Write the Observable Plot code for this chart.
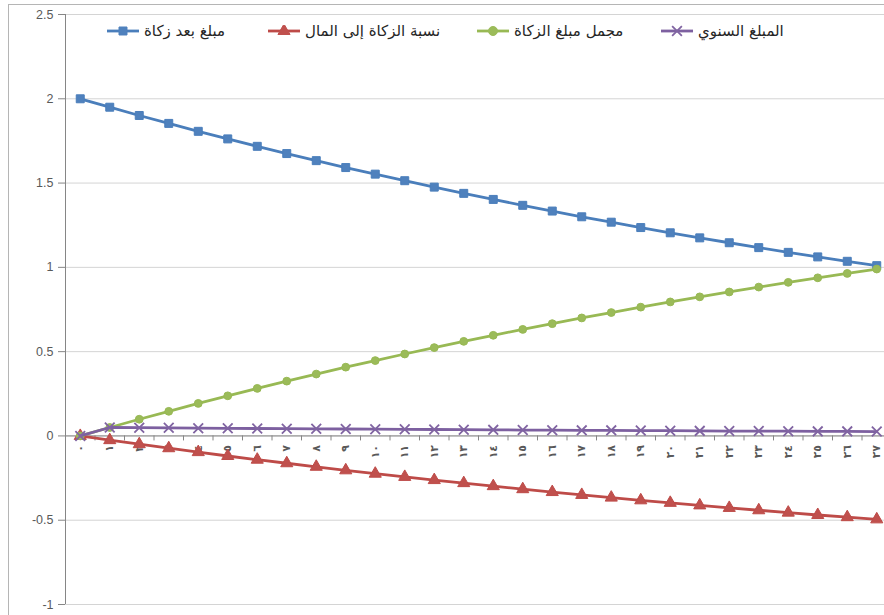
<!DOCTYPE html>
<html><head><meta charset="utf-8">
<script src="https://cdn.jsdelivr.net/npm/d3@7"></script>
<script src="https://cdn.jsdelivr.net/npm/@observablehq/plot@0.6"></script>
<style>
html,body{margin:0;padding:0;background:#fff;overflow:hidden;}
#wrap{position:relative;width:884px;height:615px;overflow:hidden;}
#border{position:absolute;left:8px;top:4px;width:950px;height:700px;border:1px solid #b5b5b5;box-sizing:border-box;}
#chart{position:absolute;left:0;top:0;}
.leg{position:absolute;top:22px;height:18px;display:flex;align-items:center;font-family:"DejaVu Sans",sans-serif;font-size:15px;color:#262626;white-space:nowrap;}
.leg span{direction:rtl;margin-left:4px;}
</style></head><body>
<div id="wrap"><div id="border"></div><div id="chart"></div><div id="legend"></div></div>
<script>
// Categories (years) and their Arabic-Indic tick labels
const categories = [0,1,2,3,4,5,6,7,8,9,10,11,12,13,14,15,16,17,18,19,20,21,22,23,24,25,26,27];
const xLabels = ["٠","١","٢","٣","٤","٥","٦","٧","٨","٩","١٠","١١","١٢","١٣","١٤","١٥","١٦","١٧","١٨","١٩","٢٠","٢١","٢٢","٢٣","٢٤","٢٥","٢٦","٢٧"];
const yTicks = [-1,-0.5,0,0.5,1,1.5,2,2.5];

// Series values
const afterZakat = [2,1.95,1.901,1.854,1.807,1.762,1.718,1.675,1.633,1.592,1.553,1.514,1.476,1.439,1.403,1.368,1.334,1.3,1.268,1.236,1.205,1.175,1.146,1.117,1.089,1.062,1.036,1.01];
const zakatRatio = [0,-0.025,-0.049,-0.073,-0.096,-0.119,-0.141,-0.162,-0.183,-0.204,-0.224,-0.243,-0.262,-0.28,-0.298,-0.316,-0.333,-0.35,-0.366,-0.382,-0.397,-0.412,-0.427,-0.441,-0.455,-0.469,-0.482,-0.495];
const totalZakat = [0,0.05,0.099,0.146,0.193,0.238,0.282,0.325,0.367,0.408,0.447,0.486,0.524,0.561,0.597,0.632,0.666,0.7,0.732,0.764,0.795,0.825,0.854,0.883,0.911,0.938,0.964,0.99];
const annualAmount = [0,0.05,0.049,0.048,0.046,0.045,0.044,0.043,0.042,0.041,0.04,0.039,0.038,0.037,0.036,0.035,0.034,0.033,0.033,0.032,0.031,0.03,0.029,0.029,0.028,0.027,0.027,0.026];

const seriesNames = ["مبلغ بعد زكاة","نسبة الزكاة إلى المال","مجمل مبلغ الزكاة","المبلغ السنوي"];
const seriesValues = [afterZakat, zakatRatio, totalZakat, annualAmount];
const lineColors = ["#4A7EBB","#BE4B48","#98B954","#7D60A0"];
const markerColors = ["#4F81BD","#C0504D","#9BBB59","#8064A2"];
const symbols = ["square","triangle","circle","times"];
const legendLeft = [106, 267, 476, 660];

const boundaries = categories.map(c => c - 0.5);

const seriesMarks = seriesValues.flatMap((vals, s) => {
  const rows = categories.map((c, i) => ({x: c, y: vals[i]}));
  const isStroke = symbols[s] === "times";
  return [
    Plot.line(rows, {x: "x", y: "y", stroke: lineColors[s], strokeWidth: 2.8}),
    Plot.dot(rows, {x: "x", y: "y", symbol: symbols[s], r: s === 2 ? 3.9 : 4.5,
      fill: isStroke ? "none" : markerColors[s], stroke: isStroke ? markerColors[s] : lineColors[s], strokeWidth: isStroke ? 1.8 : 1})
  ];
});

const chart = Plot.plot({
  width: 884, height: 615,
  marginLeft: 65, marginRight: 0, marginTop: 14, marginBottom: 11,
  style: {background: "transparent", overflow: "hidden"},
  x: {type: "linear", domain: [-0.5, 27.5], range: [65, 891], axis: null},
  y: {domain: [-1, 2.5], axis: null},
  marks: [
    Plot.ruleY(yTicks, {stroke: "#d4d4d4", strokeWidth: 1}),
    Plot.ruleX([-0.5], {stroke: "#868686"}),
    Plot.ruleY([0], {stroke: "#868686"}),
    Plot.ruleX(boundaries, {x: d => d, y1: 0, y2: 0, insetBottom: -5, stroke: "#868686"}),
    Plot.axisY(yTicks, {anchor: "left", label: null, tickSize: 7, tickPadding: 5, tickFormat: d => String(d),
      fontSize: 12.5, fontFamily: "Liberation Sans, sans-serif", stroke: "#868686", fill: "#595959"}),
    Plot.text(categories, {x: d => d, y: () => 0, text: (d, i) => xLabels[i], rotate: -90, textAnchor: "end",
      dy: 9, fontSize: 11, fontWeight: "bold", fontFamily: "DejaVu Sans, sans-serif", fill: "#595959"}),
    ...seriesMarks
  ]
});
document.getElementById("chart").appendChild(chart);

// Legend
const legend = document.getElementById("legend");
seriesNames.forEach((name, s) => {
  const item = document.createElement("div");
  item.className = "leg";
  item.style.left = legendLeft[s] + "px";
  const svg = d3.create("svg").attr("width", 34).attr("height", 12);
  svg.append("line").attr("x1", 1).attr("x2", 33).attr("y1", 6).attr("y2", 6)
    .attr("stroke", lineColors[s]).attr("stroke-width", 2.8);
  const symMap = {square: d3.symbolSquare, triangle: d3.symbolTriangle, circle: d3.symbolCircle, times: d3.symbolTimes};
  const isStroke = symbols[s] === "times";
  svg.append("path").attr("transform", "translate(17,6)")
    .attr("d", d3.symbol(symMap[symbols[s]], Math.PI * 4.5 * 4.5)())
    .attr("fill", isStroke ? "none" : markerColors[s])
    .attr("stroke", markerColors[s]).attr("stroke-width", isStroke ? 1.8 : 1);
  item.appendChild(svg.node());
  const span = document.createElement("span");
  span.textContent = name;
  item.appendChild(span);
  legend.appendChild(item);
});
</script>
</body></html>
